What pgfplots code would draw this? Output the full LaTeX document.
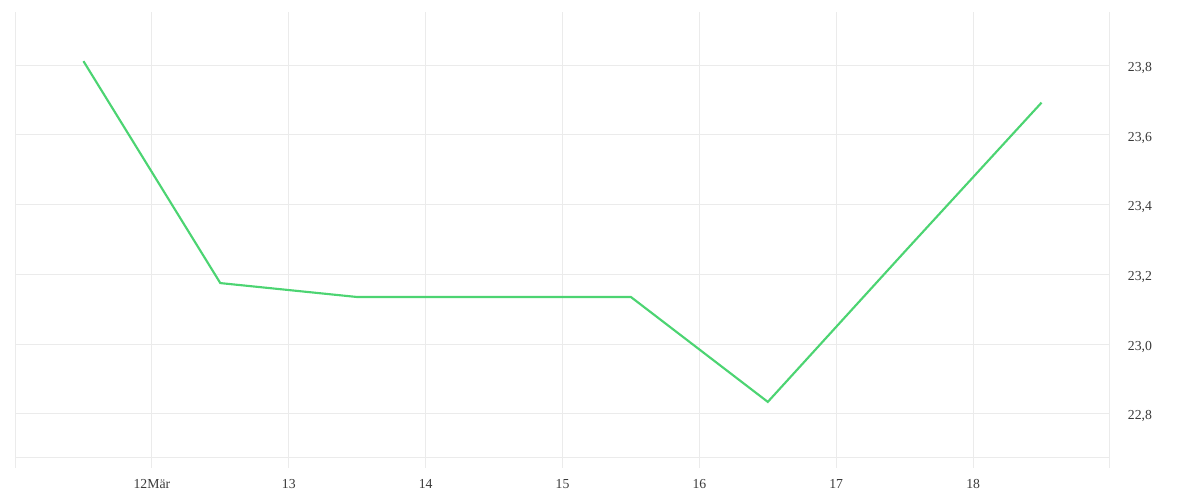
\documentclass[border=0pt]{standalone}
\usepackage{pgfplots}
\pgfplotsset{compat=1.18}
\usepackage{fontspec}
\setmainfont{Liberation Serif}
\definecolor{gridc}{HTML}{EBEBEB}
\definecolor{linec}{HTML}{4CD472}
\definecolor{textc}{HTML}{3A3A3A}
\begin{document}
\fontsize{10}{12}\selectfont
\begin{tikzpicture}
\useasboundingbox (0,0) rectangle (900pt,375pt);
\begin{axis}[
    at={(11.25pt,31.5pt)}, anchor=south west,
    scale only axis,
    width=821.25pt, height=334.5pt,
    xmin=11, xmax=19,
    ymin=22.673, ymax=23.953,
    axis x line*=bottom,
    axis y line*=right,
    axis line style={draw=gridc, line width=0.75pt},
    xtick={11,12,...,19},
    xticklabels={,12Mär,13,14,15,16,17,18,},
    ytick={22.8,23.0,...,23.8},
    yticklabel pos=right,
    grid=major,
    major grid style={draw=gridc, line width=0.75pt},
    tick align=outside,
    major tick length=7.5pt,
    xtick style={draw=gridc, line width=0.75pt},
    ytick style={draw=none},
    tick label style={text=textc, font=\fontsize{10.3}{12}\selectfont},
    xticklabel style={yshift=-5pt},
    yticklabel style={xshift=2.4pt, yshift=-2pt},
    /pgf/number format/.cd, fixed, fixed zerofill, precision=1, use comma,
    assume math mode=true,
]
\addplot[color=linec, line width=1.6pt, mark=none] coordinates {
    (11.5,23.812)
    (12.5,23.175)
    (13.5,23.135)
    (14.5,23.135)
    (15.5,23.135)
    (16.5,22.834)
    (17.5,23.265)
    (18.5,23.693)
};
\end{axis}
\end{tikzpicture}
\end{document}
